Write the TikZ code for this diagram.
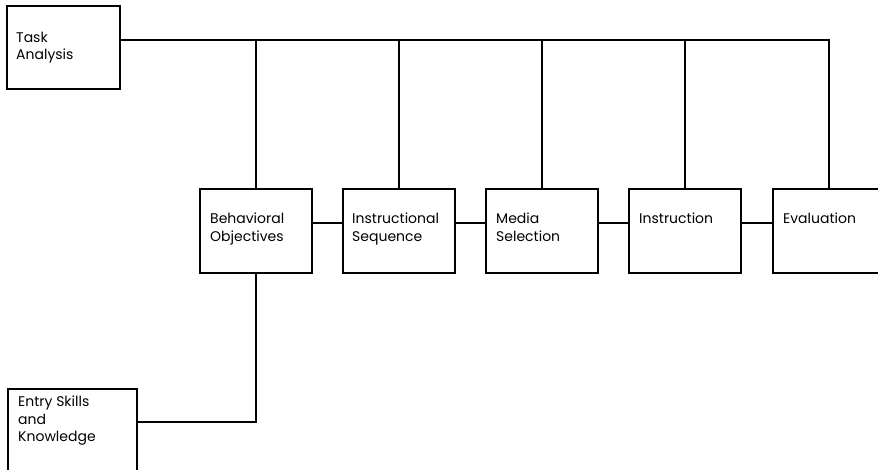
\documentclass[tikz,border=0pt]{standalone}
\usepackage{fontspec}
\setmainfont{Poppins}
\begin{document}
\begin{tikzpicture}[x=1pt,y=-1pt,
  box/.style={draw, line width=1.1pt, minimum width=#1, minimum height=84pt, inner sep=0pt, outer sep=0pt},
  lbl/.style={anchor=north west, inner sep=0pt, align=left, font=\fontsize{14}{17.5}\selectfont},
  wire/.style={line width=1.1pt}]
\useasboundingbox (0,0) rectangle (878,469);
\clip (0,0) rectangle (878,469);
% boxes
\node[box=113pt, minimum height=83pt] (task) at (63.5,47.5) {};
\node[box=112pt] (beh) at (256,231) {};
\node[box=112pt] (seq) at (399,231) {};
\node[box=112pt] (med) at (542,231) {};
\node[box=112pt] (ins) at (685,231) {};
\node[box=112pt] (eva) at (829,231) {};
\node[box=129pt, minimum height=83pt] (ent) at (72.5,430.5) {};
% labels
\node[lbl] (taskt) at (16,31.5) {Task\\Analysis};
\node[lbl] (beht) at (210,213) {Behavioral\\Objectives};
\node[lbl] (seqt) at (352,213) {Instructional\\Sequence};
\node[lbl] (medt) at (496,213) {Media\\Selection};
\node[lbl] (inst) at (639,213) {Instruction};
\node[lbl] (evat) at (783,213) {Evaluation};
\node[lbl] (entt) at (18,396) {Entry Skills\\and\\Knowledge};
% top bus
\coordinate (bus) at (0,40);
\draw[wire] (task.east |- bus) -| (eva.north);
\foreach \n in {beh,seq,med,ins} \draw[wire] (\n.north) -- (\n.north |- bus);
% chain
\coordinate (row) at (0,223);
\draw[wire] (beh.east |- row) -- (seq.west |- row);
\draw[wire] (seq.east |- row) -- (med.west |- row);
\draw[wire] (med.east |- row) -- (ins.west |- row);
\draw[wire] (ins.east |- row) -- (eva.west |- row);
% entry skills
\coordinate (erow) at (0,422);
\draw[wire] (beh.south) |- (ent.east |- erow);
\end{tikzpicture}
\end{document}
